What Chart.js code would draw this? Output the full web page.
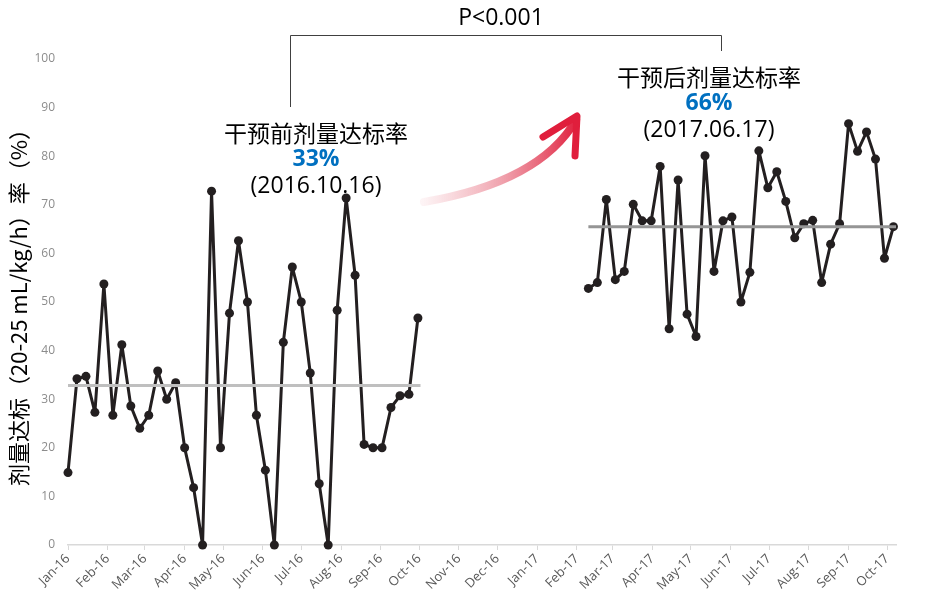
<!DOCTYPE html>
<html>
<head>
<meta charset="utf-8">
<script src="https://cdn.jsdelivr.net/npm/chart.js@4.4.0/dist/chart.umd.min.js"></script>
<style>
  body { margin: 0; background: #fff; }
  canvas { display: block; }
</style>
</head>
<body>
<canvas id="grafico" width="925" height="598"></canvas>
<script>
// dados (semanal)
var inicioAntes = '2016-01-01';
var inicioDepois = '2017-02-10';
var valoresAntes = [14.9, 34.2, 34.7, 27.3, 53.7, 26.7, 41.2, 28.6, 24.0, 26.7,
    35.8, 30.0, 33.4, 20.0, 11.8, 0, 72.8, 20.0, 47.7, 62.6,
    50.0, 26.7, 15.4, 0, 41.7, 57.2, 50.0, 35.4, 12.6, 0,
    48.3, 71.4, 55.5, 20.7, 20.0, 20.0, 28.3, 30.7, 31.0, 46.7];
var valoresDepois = [52.8, 54.0, 71.1, 54.6, 56.3, 70.1, 66.7, 66.7, 77.9, 44.5,
    75.1, 47.5, 42.9, 80.1, 56.3, 66.7, 67.5, 50.0, 56.1, 81.1,
    73.5, 76.8, 70.7, 63.2, 66.1, 66.8, 54.0, 61.9, 66.1, 86.7,
    81.0, 85.0, 79.4, 59.0, 65.5];
var mediaAntes = 32.8;
var mediaDepois = 65.5;
var fimMediaAntes = '2016-10-02';
var fimEixo = '2017-10-08';
var mesesTicks = ['2016-01-01', '2016-02-01', '2016-03-01', '2016-04-01', '2016-05-01', '2016-06-01',
    '2016-07-01', '2016-08-01', '2016-09-01', '2016-10-01', '2016-11-01', '2016-12-01',
    '2017-01-01', '2017-02-01', '2017-03-01', '2017-04-01', '2017-05-01', '2017-06-01',
    '2017-07-01', '2017-08-01', '2017-09-01', '2017-10-01'];
var mesesLabels = ['Jan-16', 'Feb-16', 'Mar-16', 'Apr-16', 'May-16', 'Jun-16', 'Jul-16', 'Aug-16',
    'Sep-16', 'Oct-16', 'Nov-16', 'Dec-16', 'Jan-17', 'Feb-17', 'Mar-17', 'Apr-17', 'May-17',
    'Jun-17', 'Jul-17', 'Aug-17', 'Sep-17', 'Oct-17'];
var yTicks = [0, 10, 20, 30, 40, 50, 60, 70, 80, 90, 100];

var base = Date.UTC(2016, 0, 1);
function dia(s) {
    var p = s.split('-');
    return (Date.UTC(+p[0], +p[1] - 1, +p[2]) - base) / 86400000;
}
function pontos(inicio, valores) {
    var d0 = dia(inicio);
    return valores.map(function (v, i) { return { x: d0 + 7 * i, y: v }; });
}

var fonteLatina = '"Open Sans", "Noto Sans CJK SC", sans-serif';
var fonteCJK = '"Noto Sans CJK SC", "Open Sans", sans-serif';

var anotacoes = {
    id: 'anotacoes',
    afterDraw: function (chart) {
        var c = chart.ctx;
        c.save();
        // colchete do P
        c.strokeStyle = '#404040';
        c.lineWidth = 1;
        c.beginPath();
        c.moveTo(290.5, 107);
        c.lineTo(290.5, 35.5);
        c.lineTo(721.5, 35.5);
        c.lineTo(721.5, 51);
        c.stroke();

        c.textAlign = 'center';
        c.textBaseline = 'middle';
        c.fillStyle = '#000';
        c.font = '23px ' + fonteLatina;
        c.fillText('P<0.001', 501, 18);

        function bloco(x, y, titulo, pct, data) {
            c.fillStyle = '#000';
            c.font = '23px ' + fonteCJK;
            c.fillText(titulo, x, y);
            c.fillStyle = '#0070c0';
            c.font = 'bold 23px ' + fonteLatina;
            c.fillText(pct, x, y + 26);
            c.fillStyle = '#000';
            c.font = '23px ' + fonteLatina;
            c.fillText(data, x, y + 53);
        }
        bloco(316, 133, '干预前剂量达标率', '33%', '(2016.10.16)');
        bloco(709, 77, '干预后剂量达标率', '66%', '(2017.06.17)');

        // seta curva com gradiente
        var grad = c.createLinearGradient(422, 0, 578, 0);
        grad.addColorStop(0, 'rgba(232, 120, 135, 0.08)');
        grad.addColorStop(0.5, 'rgba(228, 90, 110, 0.55)');
        grad.addColorStop(1, 'rgba(224, 30, 60, 1)');
        c.strokeStyle = grad;
        c.lineWidth = 8;
        c.lineCap = 'round';
        c.lineJoin = 'round';
        c.beginPath();
        c.moveTo(424, 202);
        c.quadraticCurveTo(540, 182, 576, 120);
        c.stroke();
        c.strokeStyle = '#e01e3c';
        c.lineWidth = 7;
        c.beginPath();
        c.moveTo(543, 137);
        c.lineTo(577, 116);
        c.lineTo(575, 156);
        c.stroke();
        c.restore();
    }
};

var ctx = document.getElementById('grafico').getContext('2d');
var grafico = new Chart(ctx, {
    type: 'line',
    data: {
        datasets: [{
            data: pontos(inicioAntes, valoresAntes),
            borderColor: '#231f20',
            backgroundColor: '#231f20',
            borderWidth: 3,
            borderJoinStyle: 'round',
            pointRadius: 4.5,
            pointBorderWidth: 0,
            clip: false,
            order: 2
        }, {
            data: pontos(inicioDepois, valoresDepois),
            borderColor: '#231f20',
            backgroundColor: '#231f20',
            borderWidth: 3,
            borderJoinStyle: 'round',
            pointRadius: 4.5,
            pointBorderWidth: 0,
            clip: false,
            order: 2
        }, {
            data: [{ x: 0, y: mediaAntes }, { x: dia(fimMediaAntes), y: mediaAntes }],
            borderColor: '#bfbfbf',
            borderWidth: 3,
            pointRadius: 0,
            order: 1
        }, {
            data: [{ x: dia(inicioDepois), y: mediaDepois }, { x: dia(fimEixo), y: mediaDepois }],
            borderColor: '#959595',
            borderWidth: 3,
            pointRadius: 0,
            order: 1
        }]
    },
    options: {
        responsive: false,
        animation: false,
        layout: { padding: { top: 59, right: 29, left: 0, bottom: 0 } },
        plugins: {
            legend: { display: false },
            tooltip: { enabled: false }
        },
        scales: {
            x: {
                type: 'linear',
                min: 0,
                max: dia(fimEixo),
                afterBuildTicks: function (scale) {
                    scale.ticks = mesesTicks.map(function (m) { return { value: dia(m) }; });
                },
                afterFit: function (scale) { scale.height = 53; },
                grid: { drawOnChartArea: false, color: '#d9d9d9', tickLength: 5 },
                border: { color: '#d9d9d9', width: 1.5 },
                ticks: {
                    autoSkip: false,
                    maxRotation: 45,
                    minRotation: 45,
                    padding: 1,
                    color: '#595959',
                    font: { size: 13, family: fonteLatina },
                    callback: function (v, i) { return mesesLabels[i]; }
                }
            },
            y: {
                min: 0,
                max: 100,
                afterBuildTicks: function (scale) {
                    scale.ticks = yTicks.map(function (v) { return { value: v }; });
                },
                afterFit: function (scale) { scale.width = 68; },
                grid: { display: false },
                border: { display: false },
                ticks: {
                    padding: 5,
                    color: '#8c8c8c',
                    font: { size: 12, family: fonteLatina }
                },
                title: {
                    display: true,
                    text: '剂量达标（20-25 mL/kg/h）率（%）',
                    color: '#000',
                    font: { size: 22, family: fonteCJK },
                    padding: { top: 5, bottom: 0 }
                }
            }
        }
    },
    plugins: [anotacoes]
});
</script>
</body>
</html>
